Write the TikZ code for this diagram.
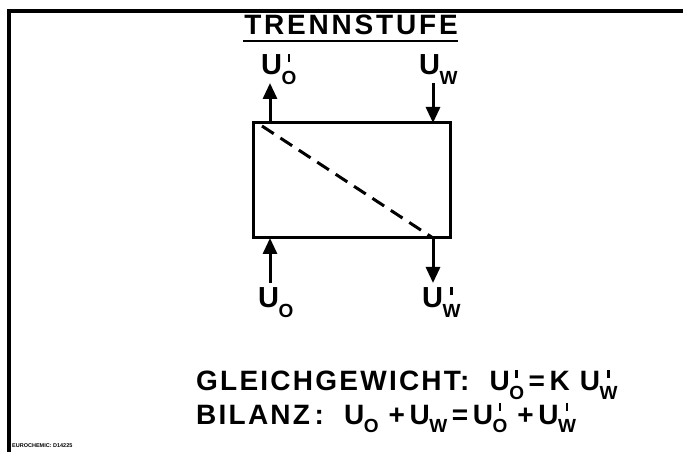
\documentclass[tikz,border=0pt]{standalone}
\usepackage{fontspec}
\setmainfont{Liberation Sans}
\newfontfamily\spacedfont[LetterSpace=10]{Liberation Sans}
\newfontfamily\eqfont[LetterSpace=8]{Liberation Sans}
\usetikzlibrary{arrows.meta,calc}
\newcommand{\Usub}[1]{U\kern-0.5pt\raisebox{-0.32em}{\fontsize{19}{19}\selectfont #1}}
\newcommand{\Uprm}[1]{U\kern-0.5pt\raisebox{-0.32em}{\fontsize{19}{19}\selectfont\setbox0\hbox{#1}\rlap{\hbox to\wd0{\hss\rule[1.15em]{2.4pt}{0.42em}\hss}}\box0}}
\tikzset{
  frameline/.style={line width=4pt},
  boxst/.style={draw, line width=3pt, minimum width=197pt, minimum height=115pt, inner sep=0pt, outer sep=0pt},
  arr/.style={line width=3pt, -{Triangle[width=14pt,length=16pt]}},
  lbl/.style={inner sep=0pt, anchor=base west, font=\fontsize{29}{30}\selectfont\bfseries},
  eq/.style={inner sep=0pt, anchor=base west, font=\eqfont\fontsize{28}{32}\selectfont\bfseries},
  dash line/.style={line width=3pt, dash pattern=on 14pt off 8pt}
}
\begin{document}
\begin{tikzpicture}[x=1pt,y=-1pt]
\useasboundingbox (0,0) rectangle (683,454);
\draw[frameline] (9,452) -- (9,11) -- (683,11);
\node[inner sep=0pt, anchor=base, font=\spacedfont\fontsize{28}{30}\selectfont\bfseries] (title) at (351,35) {TRENNSTUFE};
\draw[line width=2.5pt] (243,41) -- (458,41);
\node[boxst] (box) at (351.5,180.5) {};
\draw[dash line] ([xshift=9pt,yshift=-3pt]box.north west) -- ([xshift=-17pt]box.south east);
\coordinate (t1) at (270,83);
\coordinate (t2) at (433,83);
\coordinate (b1) at (270,283);
\coordinate (b2) at (433,283);
\draw[arr] ([xshift=17pt]box.north west) -- (t1);
\draw[arr] (t2) -- ([xshift=-17pt]box.north east);
\draw[arr] (b1) -- ([xshift=17pt]box.south west);
\draw[arr] ([xshift=-17pt]box.south east) -- (b2);
\node[lbl] (l1) at (261,75) {\Uprm{O}};
\node[lbl] (l2) at (419,75) {\Usub{W}};
\node[lbl] (l3) at (258,308) {\Usub{O}};
\node[lbl] (l4) at (422,308) {\Uprm{W}};
\node[eq] (e1) at (196,391) {GLEICHGEWICHT:\ \ \Uprm{O}\,=\,K\ \Uprm{W}};
\node[eq] (e2) at (196,424) {BILANZ\,:\ \ \Usub{O}\ +\,\Usub{W}\,=\,\Uprm{O}\ +\,\Uprm{W}};
\node[inner sep=0pt, anchor=base west, font=\fontsize{5.5}{6}\selectfont\bfseries] (ref) at (12,447) {EUROCHEMIC: D14225};
\end{tikzpicture}
\end{document}
